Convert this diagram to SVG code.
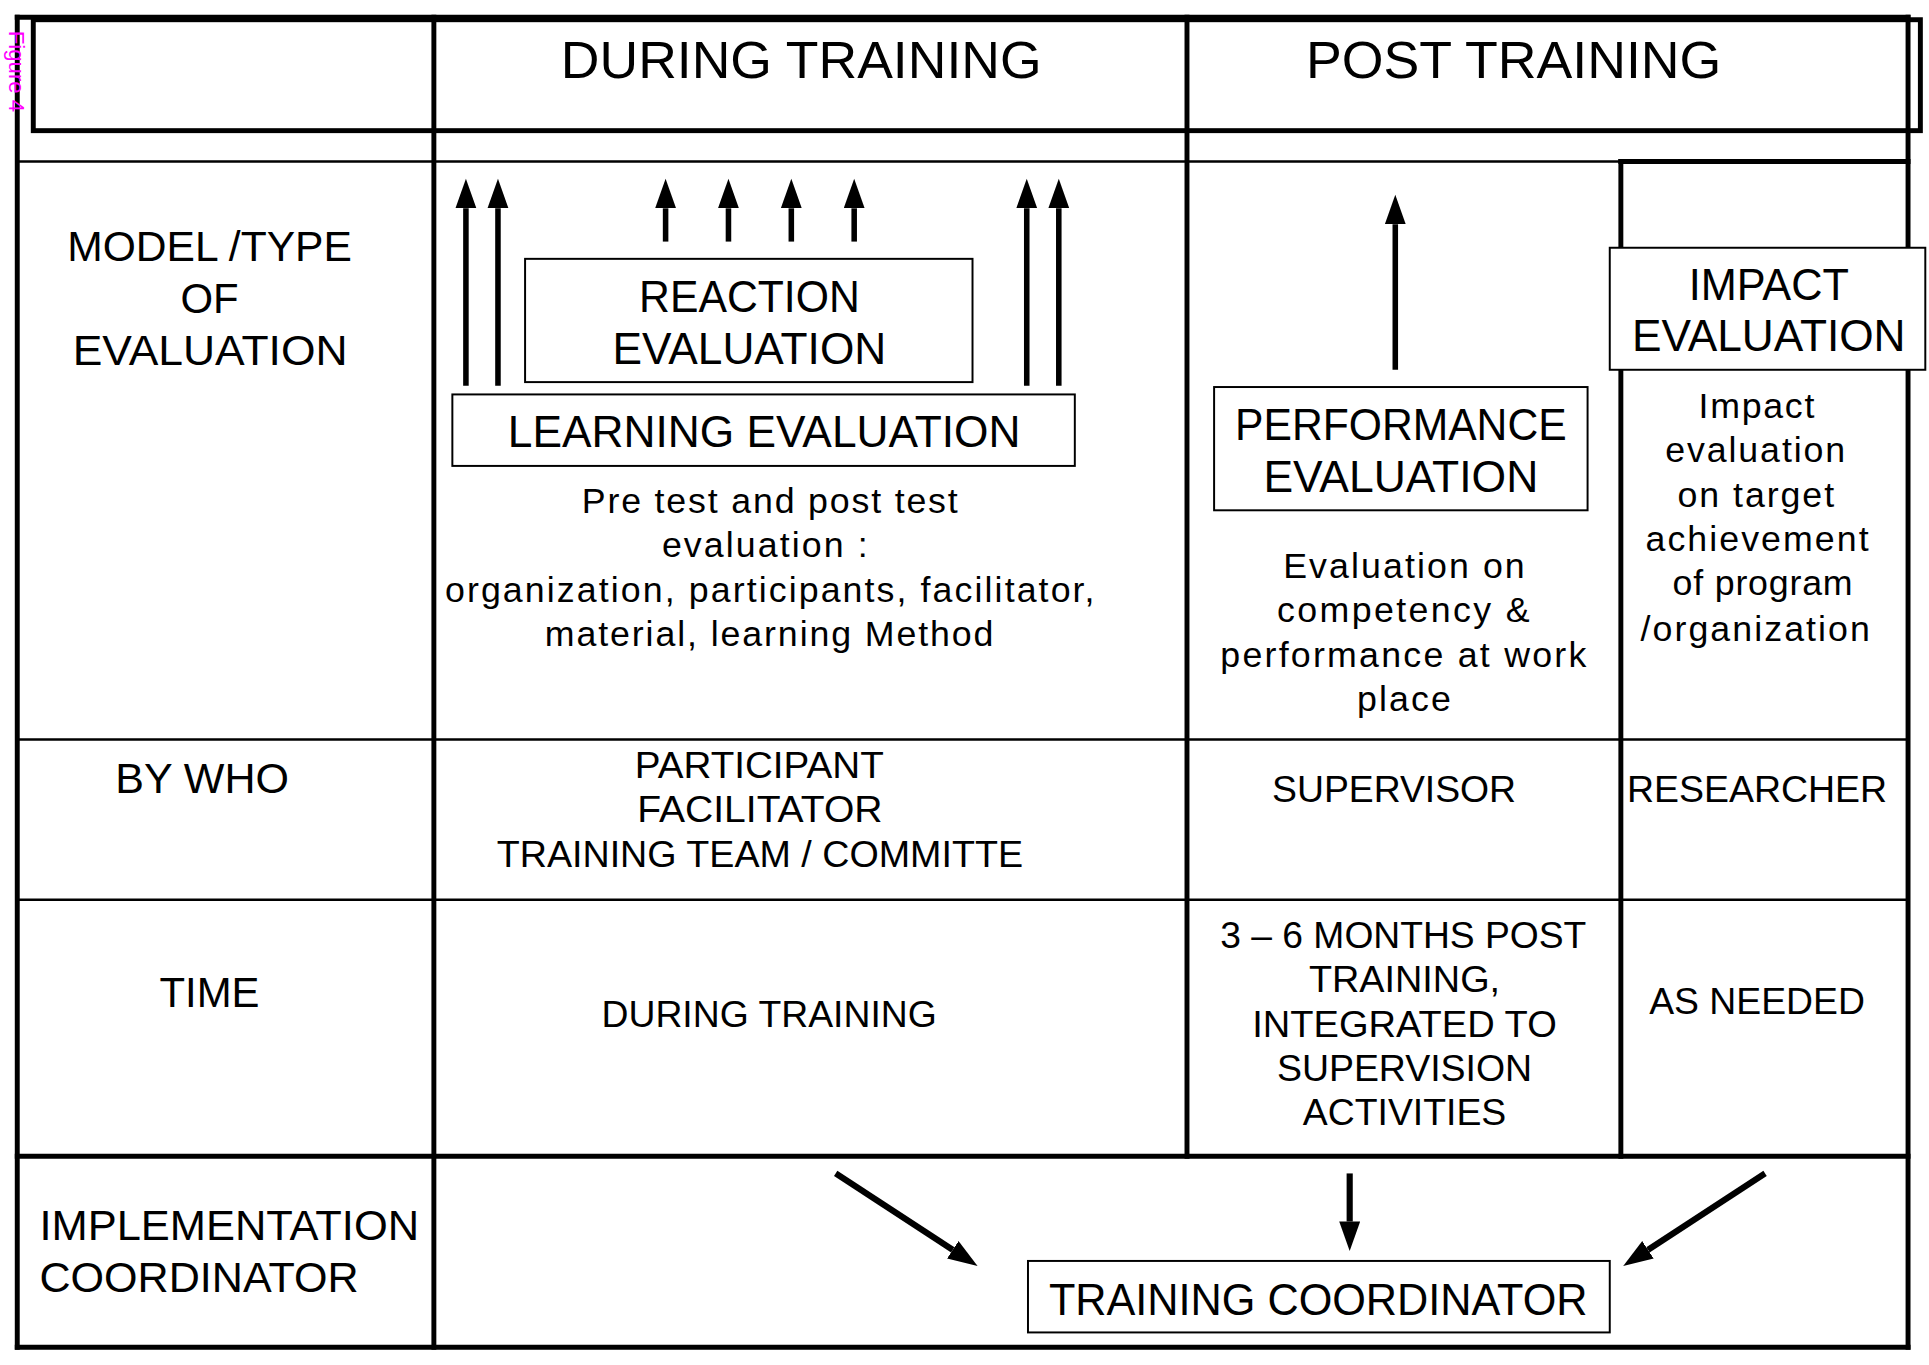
<svg xmlns="http://www.w3.org/2000/svg" width="1929" height="1365" viewBox="0 0 1929 1365">
<style>
.thick{stroke:#000;stroke-width:4;fill:none;stroke-linecap:square}
.thin{stroke:#000;stroke-width:2;fill:none}
.box{stroke:#000;stroke-width:1.6;fill:#fff}
.arr{stroke:#000;stroke-width:4.5;fill:none;marker-end:url(#ah)}
.arr2{stroke:#000;stroke-width:5;fill:none;marker-end:url(#ah)}
text{font-family:"Liberation Sans",Arial,sans-serif;fill:#000}
.hdr{font-size:42px;text-anchor:middle}
.lbl{font-size:34px}
.lblc{font-size:34px;text-anchor:middle}
.cap{font-size:36px;text-anchor:middle}
.mid{font-size:30px;text-anchor:middle}
.body{font-size:29px;text-anchor:middle}
.fig{font-size:18px;fill:#ff00ff}
</style>
<defs>
<marker id="ah" markerUnits="userSpaceOnUse" markerWidth="26" markerHeight="18" refX="0" refY="8.5" orient="auto">
<path d="M0,0 L24,8.5 L0,17 Z" fill="#000"/>
</marker>
</defs>
<rect width="1929" height="1365" fill="#fff"/>
<g transform="scale(1.23259)">
<g id="grid">
<rect class="thick" x="27" y="16" width="1531" height="90"/>
<line class="thick" x1="14" y1="14" x2="1548" y2="14"/>
<line class="thick" x1="14" y1="14" x2="14" y2="1093"/>
<line class="thick" x1="1548" y1="14" x2="1548" y2="1093"/>
<line class="thick" x1="14" y1="1093" x2="1548" y2="1093"/>
<line class="thick" x1="352" y1="14" x2="352" y2="1093"/>
<line class="thick" x1="963" y1="14" x2="963" y2="938"/>
<line class="thick" x1="1315" y1="131" x2="1315" y2="938"/>
<line class="thick" x1="1315" y1="131" x2="1548" y2="131"/>
<line class="thick" x1="14" y1="938" x2="1548" y2="938"/>
<line class="thin" x1="14" y1="131" x2="1315" y2="131"/>
<line class="thin" x1="14" y1="600" x2="1548" y2="600"/>
<line class="thin" x1="14" y1="730" x2="1548" y2="730"/>
</g>
<text class="fig" transform="translate(7,25) rotate(90)" textLength="66" lengthAdjust="spacingAndGlyphs">Figure 4</text>
<g id="headers">
<text class="hdr" x="650" y="63" textLength="390" lengthAdjust="spacingAndGlyphs">DURING TRAINING</text>
<text class="hdr" x="1228" y="63" textLength="337" lengthAdjust="spacingAndGlyphs">POST TRAINING</text>
</g>
<g id="row-labels">
<text class="lblc" x="170" y="212" textLength="231" lengthAdjust="spacingAndGlyphs">MODEL /TYPE</text>
<text class="lblc" x="170" y="254">OF</text>
<text class="lblc" x="170.5" y="296" textLength="223" lengthAdjust="spacingAndGlyphs">EVALUATION</text>
<text class="lblc" x="164" y="643" textLength="141" lengthAdjust="spacingAndGlyphs">BY WHO</text>
<text class="lblc" x="170" y="817">TIME</text>
<text class="lbl" x="32" y="1006" textLength="308" lengthAdjust="spacingAndGlyphs">IMPLEMENTATION</text>
<text class="lbl" x="32" y="1048" textLength="259" lengthAdjust="spacingAndGlyphs">COORDINATOR</text>
</g>
<g id="connectors">
<line class="arr" x1="378" y1="313" x2="378" y2="169"/>
<line class="arr" x1="404" y1="313" x2="404" y2="169"/>
<line class="arr" x1="833" y1="313" x2="833" y2="169"/>
<line class="arr" x1="859" y1="313" x2="859" y2="169"/>
<line class="arr" x1="540" y1="196" x2="540" y2="169"/>
<line class="arr" x1="591" y1="196" x2="591" y2="169"/>
<line class="arr" x1="642" y1="196" x2="642" y2="169"/>
<line class="arr" x1="693" y1="196" x2="693" y2="169"/>
<line class="arr" x1="1132" y1="300" x2="1132" y2="182"/>
<line class="arr2" x1="678" y1="952" x2="773" y2="1014"/>
<line class="arr2" x1="1095" y1="952" x2="1095" y2="991"/>
<line class="arr2" x1="1432" y1="952" x2="1337" y2="1014"/>
</g>
<g id="reaction-evaluation">
<rect class="box" x="426" y="210" width="363" height="100"/>
<text class="cap" x="608" y="253" textLength="179" lengthAdjust="spacingAndGlyphs">REACTION</text>
<text class="cap" x="608" y="295" textLength="222" lengthAdjust="spacingAndGlyphs">EVALUATION</text>
</g>
<g id="learning-evaluation">
<rect class="box" x="367" y="320" width="505" height="58"/>
<text class="cap" x="620" y="363" textLength="416" lengthAdjust="spacingAndGlyphs">LEARNING EVALUATION</text>
</g>
<g id="learning-desc">
<text class="body" x="624.5" y="416" textLength="305" lengthAdjust="spacing">Pre test and post test</text>
<text class="body" x="620.5" y="452" textLength="167" lengthAdjust="spacing">evaluation :</text>
<text class="body" x="624.5" y="488" textLength="527" lengthAdjust="spacing">organization, participants, facilitator,</text>
<text class="body" x="624" y="524" textLength="364" lengthAdjust="spacing">material, learning Method</text>
</g>
<g id="performance-evaluation">
<rect class="box" x="985" y="314" width="303" height="100"/>
<text class="cap" x="1136.5" y="357" textLength="269" lengthAdjust="spacingAndGlyphs">PERFORMANCE</text>
<text class="cap" x="1136.5" y="399" textLength="223" lengthAdjust="spacingAndGlyphs">EVALUATION</text>
</g>
<g id="performance-desc">
<text class="body" x="1139" y="469" textLength="196" lengthAdjust="spacing">Evaluation on</text>
<text class="body" x="1138.5" y="505" textLength="205" lengthAdjust="spacing">competency &amp;</text>
<text class="body" x="1138.5" y="541" textLength="297" lengthAdjust="spacing">performance at work</text>
<text class="body" x="1139" y="577" textLength="76" lengthAdjust="spacing">place</text>
</g>
<g id="impact-evaluation">
<rect class="box" x="1306" y="201" width="256" height="99"/>
<text class="cap" x="1435" y="243" textLength="130" lengthAdjust="spacingAndGlyphs">IMPACT</text>
<text class="cap" x="1435" y="285" textLength="222" lengthAdjust="spacingAndGlyphs">EVALUATION</text>
</g>
<g id="impact-desc">
<text class="body" x="1425" y="339" textLength="94" lengthAdjust="spacing">Impact</text>
<text class="body" x="1424" y="375" textLength="146" lengthAdjust="spacing">evaluation</text>
<text class="body" x="1424.5" y="411" textLength="127" lengthAdjust="spacing">on target</text>
<text class="body" x="1425.5" y="447" textLength="181" lengthAdjust="spacing">achievement</text>
<text class="body" x="1430" y="483" textLength="146" lengthAdjust="spacing">of program</text>
<text class="body" x="1424" y="520" textLength="186" lengthAdjust="spacing">/organization</text>
</g>
<g id="by-who">
<text class="mid" x="616" y="631" textLength="202" lengthAdjust="spacingAndGlyphs">PARTICIPANT</text>
<text class="mid" x="616.5" y="667" textLength="199" lengthAdjust="spacingAndGlyphs">FACILITATOR</text>
<text class="mid" x="616.5" y="703" textLength="427" lengthAdjust="spacingAndGlyphs">TRAINING TEAM / COMMITTE</text>
<text class="mid" x="1131" y="651" textLength="198" lengthAdjust="spacingAndGlyphs">SUPERVISOR</text>
<text class="mid" x="1425.5" y="651" textLength="211" lengthAdjust="spacingAndGlyphs">RESEARCHER</text>
</g>
<g id="time">
<text class="mid" x="624" y="833" textLength="272" lengthAdjust="spacingAndGlyphs">DURING TRAINING</text>
<text class="mid" x="1138.5" y="769" textLength="297" lengthAdjust="spacingAndGlyphs">3 – 6 MONTHS POST</text>
<text class="mid" x="1139.5" y="805" textLength="155" lengthAdjust="spacingAndGlyphs">TRAINING,</text>
<text class="mid" x="1139.5" y="841" textLength="247" lengthAdjust="spacingAndGlyphs">INTEGRATED TO</text>
<text class="mid" x="1139.5" y="877" textLength="207" lengthAdjust="spacingAndGlyphs">SUPERVISION</text>
<text class="mid" x="1139.5" y="913" textLength="165" lengthAdjust="spacingAndGlyphs">ACTIVITIES</text>
<text class="mid" x="1425.5" y="823" textLength="175" lengthAdjust="spacingAndGlyphs">AS NEEDED</text>
</g>
<g id="training-coordinator">
<rect class="box" x="834" y="1023" width="472" height="58"/>
<text class="cap" x="1069.5" y="1067" textLength="437" lengthAdjust="spacingAndGlyphs">TRAINING COORDINATOR</text>
</g>
</g>
</svg>
